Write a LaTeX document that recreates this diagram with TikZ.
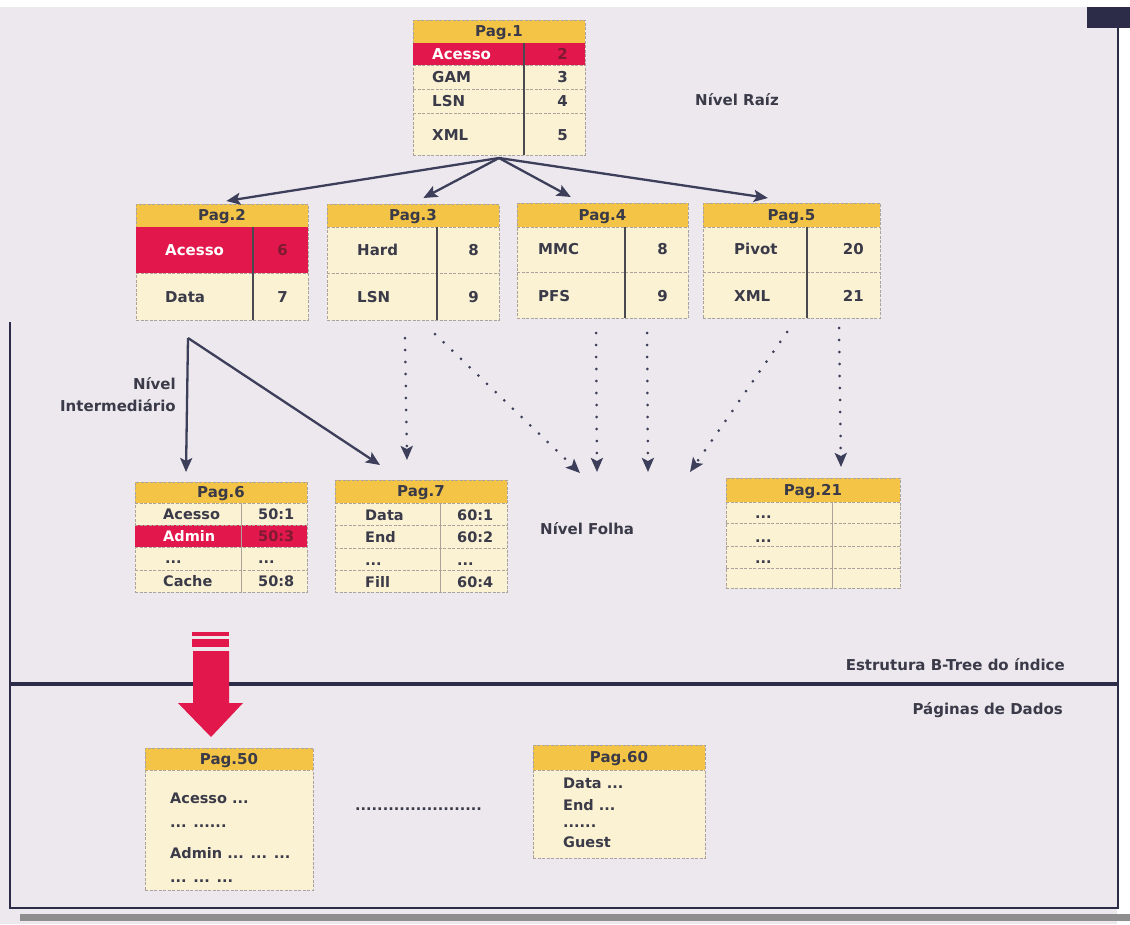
\documentclass[tikz,border=0pt]{standalone}
\usepackage{fontspec}
\newfontfamily\djf{DejaVu Sans}
\usetikzlibrary{arrows.meta,calc}
\definecolor{bgC}{HTML}{ECE8EE}
\definecolor{hdrY}{HTML}{F3C445}
\definecolor{cellY}{HTML}{FBF2D4}
\definecolor{redC}{HTML}{E2174B}
\definecolor{redNum}{HTML}{7E1A32}
\definecolor{txtC}{HTML}{3A3A48}
\definecolor{sepC}{HTML}{ABA39B}
\definecolor{divC}{HTML}{4A4850}
\definecolor{frameC}{HTML}{2D2C48}
\definecolor{arrC}{HTML}{3C3E5A}
\definecolor{barC}{HTML}{8E8E8E}
\tikzset{
  ttl/.style={font=\djf\bfseries\fontsize{15}{15}\selectfont, text=txtC, inner sep=0pt, text height=10.9pt, text depth=0pt},
  ct/.style={ttl},
  ctw/.style={ct, text=white},
  ctr/.style={ct, text=redNum},
  cts/.style={font=\djf\bfseries\fontsize{14.5}{14.5}\selectfont, text=txtC, inner sep=0pt, text height=10.5pt, text depth=0pt},
  ctsw/.style={cts, text=white},
  ctsr/.style={cts, text=redNum},
  sep/.style={draw=sepC, line width=0.7pt, dash pattern=on 3pt off 1.5pt},
  vdiv/.style={draw=divC, line width=1.8pt},
  vthin/.style={draw=sepC, line width=0.8pt},
  boxn/.style={draw=sepC, line width=0.7pt, dash pattern=on 3pt off 1.5pt, inner sep=0pt, anchor=north west},
  arr/.style={draw=arrC, line width=2.3pt, -{Stealth[length=14pt,width=12pt,inset=3pt]}},
  dotarr/.style={draw=arrC, line width=3pt, line cap=round, dash pattern=on 0pt off 12pt, -{Stealth[length=14pt,width=12pt,inset=3pt]}},
  lbl/.style={font=\djf\bfseries\fontsize{15}{22}\selectfont, text=txtC, inner sep=0pt},
}
\newcommand\pagebox[7]{%
  \fill[cellY] (#2,#3) rectangle (#4,#5);
  \fill[hdrY] (#2,#3) rectangle (#4,#6);
  \node[boxn, minimum width={(#4-#2)*1pt}, minimum height={(#5-#3)*1pt}] (#1) at (#2,#3) {};
  \draw[sep] (#2,#6) -- (#4,#6);
  \node[ttl] (#1-t) at ({(#2+#4)/2},{(#3+#6)/2}) {#7};
}
\begin{document}
\begin{tikzpicture}[x=1pt,y=-1pt]
\useasboundingbox (0,0) rectangle (1130,924);
\fill[white] (0,0) rectangle (1130,924);
\fill[bgC] (0,7) rectangle (1117,924);

% frame
\fill[frameC] (1087,7) rectangle (1130,28);
\draw[frameC, line width=2.5pt] (10,322) -- (10,908) -- (1118,908) -- (1118,28);
\draw[frameC, line width=4pt] (10,684) -- (1118,684);
\fill[barC] (20,914) rectangle (1130,921);

% Pag.1
\pagebox{p1}{413}{20}{585}{155}{43}{Pag.1}
\fill[redC] (413,43) rectangle (585,65);
\draw[sep] (413,65) -- (585,65);
\draw[sep] (413,89) -- (585,89);
\draw[sep] (413,113) -- (585,113);
\draw[vdiv] (524,43) -- (524,155);
\node[ctw, anchor=west] (p1-k1) at (432,54) {Acesso};
\node[ct, anchor=west] (p1-k2) at (432,77) {GAM};
\node[ct, anchor=west] (p1-k3) at (432,101) {LSN};
\node[ct, anchor=west] (p1-k4) at (432,135) {XML};
\node[ctr, anchor=east] (p1-v1) at (568,54) {2};
\node[ct, anchor=east] (p1-v2) at (568,77) {3};
\node[ct, anchor=east] (p1-v3) at (568,101) {4};
\node[ct, anchor=east] (p1-v4) at (568,135) {5};

% Pag.2
\pagebox{p2}{136}{204}{308}{320}{227}{Pag.2}
\fill[redC] (136,227) rectangle (308,273);
\draw[sep] (136,273) -- (308,273);
\draw[vdiv] (253,227) -- (253,320);
\node[ctw, anchor=west] (p2-k1) at (165,250) {Acesso};
\node[ct, anchor=west] (p2-k2) at (165,297) {Data};
\node[ctr, anchor=east] (p2-v1) at (288,250) {6};
\node[ct, anchor=east] (p2-v2) at (288,297) {7};

% Pag.3
\pagebox{p3}{327}{204}{499}{320}{227}{Pag.3}
\draw[sep] (327,273) -- (499,273);
\draw[vdiv] (437,227) -- (437,320);
\node[ct, anchor=west] (p3-k1) at (357,250) {Hard};
\node[ct, anchor=west] (p3-k2) at (357,297) {LSN};
\node[ct, anchor=east] (p3-v1) at (479,250) {8};
\node[ct, anchor=east] (p3-v2) at (479,297) {9};

% Pag.4
\pagebox{p4}{517}{203}{688}{318}{227}{Pag.4}
\draw[sep] (517,272) -- (688,272);
\draw[vdiv] (625,227) -- (625,318);
\node[ct, anchor=west] (p4-k1) at (538,249) {MMC};
\node[ct, anchor=west] (p4-k2) at (538,296) {PFS};
\node[ct, anchor=east] (p4-v1) at (668,249) {8};
\node[ct, anchor=east] (p4-v2) at (668,296) {9};

% Pag.5
\pagebox{p5}{703}{203}{880}{318}{227}{Pag.5}
\draw[sep] (703,272) -- (880,272);
\draw[vdiv] (807,227) -- (807,318);
\node[ct, anchor=west] (p5-k1) at (734,249) {Pivot};
\node[ct, anchor=west] (p5-k2) at (734,296) {XML};
\node[ct, anchor=east] (p5-v1) at (864,249) {20};
\node[ct, anchor=east] (p5-v2) at (864,296) {21};

% Pag.6
\pagebox{p6}{135}{482}{307}{592}{503}{Pag.6}
\fill[redC] (135,525) rectangle (307,547);
\draw[sep] (135,525) -- (307,525);
\draw[sep] (135,547) -- (307,547);
\draw[sep] (135,570) -- (307,570);
\draw[vthin] (241,503) -- (241,592);
\node[cts, anchor=west] (p6-k1) at (163,514) {Acesso};
\node[ctsw, anchor=west] (p6-k2) at (163,536) {Admin};
\node[cts, anchor=west] (p6-k3) at (165,558) {...};
\node[cts, anchor=west] (p6-k4) at (163,581) {Cache};
\node[cts, anchor=west] (p6-v1) at (258,514) {50:1};
\node[ctsr, anchor=west] (p6-v2) at (258,536) {50:3};
\node[cts, anchor=west] (p6-v3) at (258,558) {...};
\node[cts, anchor=west] (p6-v4) at (258,581) {50:8};

% Pag.7
\pagebox{p7}{335}{480}{507}{592}{503}{Pag.7}
\draw[sep] (335,525) -- (507,525);
\draw[sep] (335,548) -- (507,548);
\draw[sep] (335,570) -- (507,570);
\draw[vthin] (440,503) -- (440,592);
\node[cts, anchor=west] (p7-k1) at (365,515) {Data};
\node[cts, anchor=west] (p7-k2) at (365,537) {End};
\node[cts, anchor=west] (p7-k3) at (365,560) {...};
\node[cts, anchor=west] (p7-k4) at (365,582) {Fill};
\node[cts, anchor=west] (p7-v1) at (457,515) {60:1};
\node[cts, anchor=west] (p7-v2) at (457,537) {60:2};
\node[cts, anchor=west] (p7-v3) at (457,560) {...};
\node[cts, anchor=west] (p7-v4) at (457,582) {60:4};

% Pag.21
\pagebox{p21}{726}{478}{900}{588}{502}{Pag.21}
\draw[sep] (726,523) -- (900,523);
\draw[sep] (726,546) -- (900,546);
\draw[sep] (726,568) -- (900,568);
\draw[vthin] (832,502) -- (832,588);
\node[cts, anchor=west] (p21-k1) at (755,513) {...};
\node[cts, anchor=west] (p21-k2) at (755,537) {...};
\node[cts, anchor=west] (p21-k3) at (755,558) {...};

% Pag.50
\pagebox{p50}{145}{748}{313}{890}{770}{Pag.50}
\node[cts, anchor=west] (p50-l1) at (170,798) {Acesso ...};
\node[cts, anchor=west] (p50-l2) at (170,822) {... ......};
\node[cts, anchor=west] (p50-l3) at (170,853) {Admin ... ... ...};
\node[cts, anchor=west] (p50-l4) at (170,877) {... ... ...};

% Pag.60
\pagebox{p60}{533}{745}{705}{858}{770}{Pag.60}
\node[cts, anchor=west] (p60-l1) at (563,783) {Data ...};
\node[cts, anchor=west] (p60-l2) at (563,805) {End ...};
\node[cts, anchor=west] (p60-l3) at (563,822) {......};
\node[cts, anchor=west] (p60-l4) at (563,842) {Guest};

\node[cts, anchor=west] (gap) at (355,805) {.......................};

% labels
\node[lbl, anchor=west] (lraiz) at (695,100) {Nível Raíz};
\node[lbl, anchor=north east, align=right] (linter) at (176,377) {Nível\\Intermediário};
\node[lbl, anchor=west] (lfolha) at (540,529) {Nível Folha};
\node[lbl, anchor=east] (lestr) at (1065,665) {Estrutura B-Tree do índice};
\node[lbl, anchor=east] (lpag) at (1063,710) {Páginas de Dados};

% connectors from root
\coordinate (r) at (499,158);
\draw[arr] (r) -- ($(p2.north)+(4,-3)$);
\draw[arr] (r) -- ($(p3.north)+(10,-6)$);
\draw[arr] (r) -- ($(p4.north)+(-32,-6)$);
\draw[arr] (r) -- ($(p5.north)+(-24,-5)$);

% from Pag.2 to leaves
\coordinate (c2) at (188,338);
\draw[arr] (c2) -- (186,472);
\draw[arr] (c2) -- (380,465);

% dotted connectors to leaf level
\coordinate (d3a) at (405,338);
\coordinate (d3b) at (435,334);
\coordinate (d4a) at (596,333);
\coordinate (d4b) at (647,333);
\coordinate (d5a) at (787,332);
\coordinate (d5b) at (839,328);
\coordinate (f1) at (407,460);
\coordinate (f2) at (580,473);
\coordinate (f3) at (597,472);
\coordinate (f4) at (648,472);
\coordinate (f5) at (690,472);
\coordinate (f6) at (841,467);
\draw[dotarr] (d3a) -- (f1);
\draw[dotarr] (d3b) -- (f2);
\draw[dotarr] (d4a) -- (f3);
\draw[dotarr] (d4b) -- (f4);
\draw[dotarr] (d5a) -- (f5);
\draw[dotarr] (d5b) -- (f6);

% red arrow to data pages
\fill[redC] (192,632) rectangle (229,636);
\fill[redC] (192,639) rectangle (229,647);
\fill[redC] (193,651) -- (229,651) -- (229,703) -- (243,703) -- (211,737) -- (178,703) -- (193,703) -- cycle;
\end{tikzpicture}
\end{document}
